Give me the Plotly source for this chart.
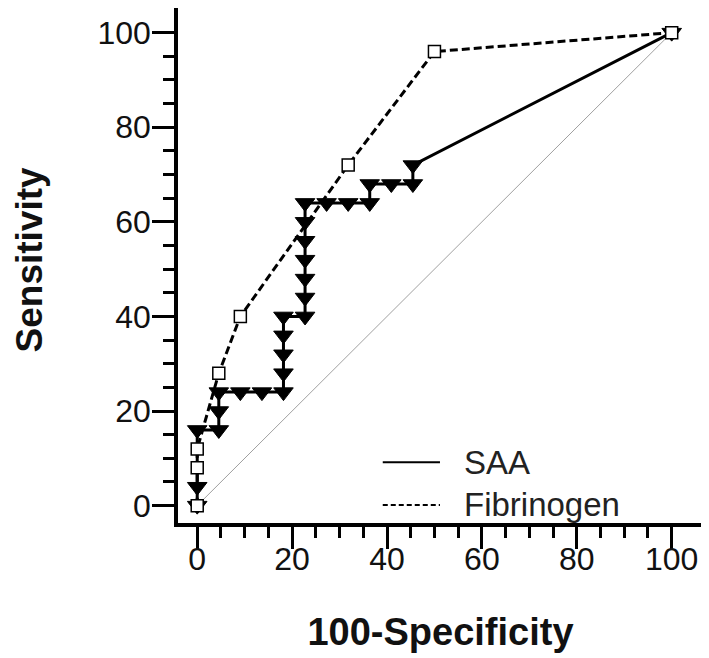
import plotly.graph_objects as go

# ROC data (100-Specificity, Sensitivity)
saa_x = [0, 0, 0, 4.55, 4.55, 4.55, 9.09, 13.64, 18.18, 18.18, 18.18, 18.18, 18.18,
         22.73, 22.73, 22.73, 22.73, 22.73, 22.73, 22.73, 27.27, 31.82, 36.36, 36.36,
         40.91, 45.45, 45.45, 100]
saa_y = [0, 4, 16, 16, 20, 24, 24, 24, 24, 28, 32, 36, 40,
         40, 44, 48, 52, 56, 60, 64, 64, 64, 64, 68,
         68, 68, 72, 100]

fib_x = [0, 0, 0, 4.55, 9.09, 31.82, 50, 100]
fib_y = [0, 8, 12, 28, 40, 72, 96, 100]

ref_x = [0, 100]
ref_y = [0, 100]

tick_vals = [0, 20, 40, 60, 80, 100]
tick_text = ["0", "20", "40", "60", "80", "100"]
minor_vals = [5, 10, 15, 25, 30, 35, 45, 50, 55, 65, 70, 75, 85, 90, 95]

series_names = ["SAA", "Fibrinogen"]
x_title = "100-Specificity"
y_title = "Sensitivity"

FONT = "Liberation Sans, Arial, sans-serif"

fig = go.Figure()
fig.add_trace(go.Scatter(x=ref_x, y=ref_y, mode="lines",
                         line=dict(color="#a0a0a0", width=1), showlegend=False,
                         hoverinfo="skip"))
fig.add_trace(go.Scatter(x=saa_x, y=saa_y, mode="lines+markers", name=series_names[0],
                         line=dict(color="black", width=3),
                         marker=dict(symbol="triangle-down", size=17, color="black",
                                     line=dict(color="black", width=1)),
                         showlegend=False, cliponaxis=False))
fig.add_trace(go.Scatter(x=fib_x, y=fib_y, mode="lines+markers", name=series_names[1],
                         line=dict(color="black", width=3, dash="8px,4px"),
                         marker=dict(symbol="square", size=12, color="white",
                                     line=dict(color="black", width=1.5)),
                         showlegend=False, cliponaxis=False))

# legend drawn as line samples + text
leg_x0, leg_x1 = 0.390, 0.499
leg_rows = [(0.118, "solid"), (0.035, "5px,3px")]
for (ly, dash), name in zip(leg_rows, series_names):
    fig.add_shape(type="line", xref="paper", yref="paper", x0=leg_x0, x1=leg_x1,
                  y0=ly, y1=ly, line=dict(color="black", width=2, dash=dash))
    fig.add_annotation(xref="paper", yref="paper", x=0.541, y=ly, text=name,
                       showarrow=False, xanchor="left", yanchor="middle",
                       font=dict(family=FONT, size=33, color="#222"))

# y-axis title
fig.add_annotation(xref="paper", yref="paper", x=-0.2826, y=0.511,
                   text="<b>" + y_title + "</b>", textangle=-90, showarrow=False,
                   xanchor="center", yanchor="middle",
                   font=dict(family=FONT, size=37, color="#111"))

axis_common = dict(
    showline=True, linecolor="black", linewidth=3.5,
    ticks="outside", ticklen=22, tickwidth=3, tickcolor="black",
    tickmode="array", tickvals=tick_vals, ticktext=tick_text,
    minor=dict(tickmode="array", tickvals=minor_vals, ticks="outside",
               ticklen=11, tickwidth=3, tickcolor="black"),
    showgrid=False, zeroline=False,
    tickfont=dict(family=FONT, size=32, color="#111"),
)

fig.update_layout(
    width=701, height=650,
    margin=dict(l=170, r=6, t=0, b=135),
    plot_bgcolor="white", paper_bgcolor="white",
    xaxis=dict(range=[-4.05, 106.6], **axis_common, ticklabelstandoff=-17,
               title=dict(text="<b>" + x_title + "</b>", standoff=43,
                          font=dict(family=FONT, size=38, color="#111"))),
    yaxis=dict(range=[-3.67, 105.21], **axis_common, ticklabelstandoff=-5),
    showlegend=False,
)

fig.write_html("out.html")
